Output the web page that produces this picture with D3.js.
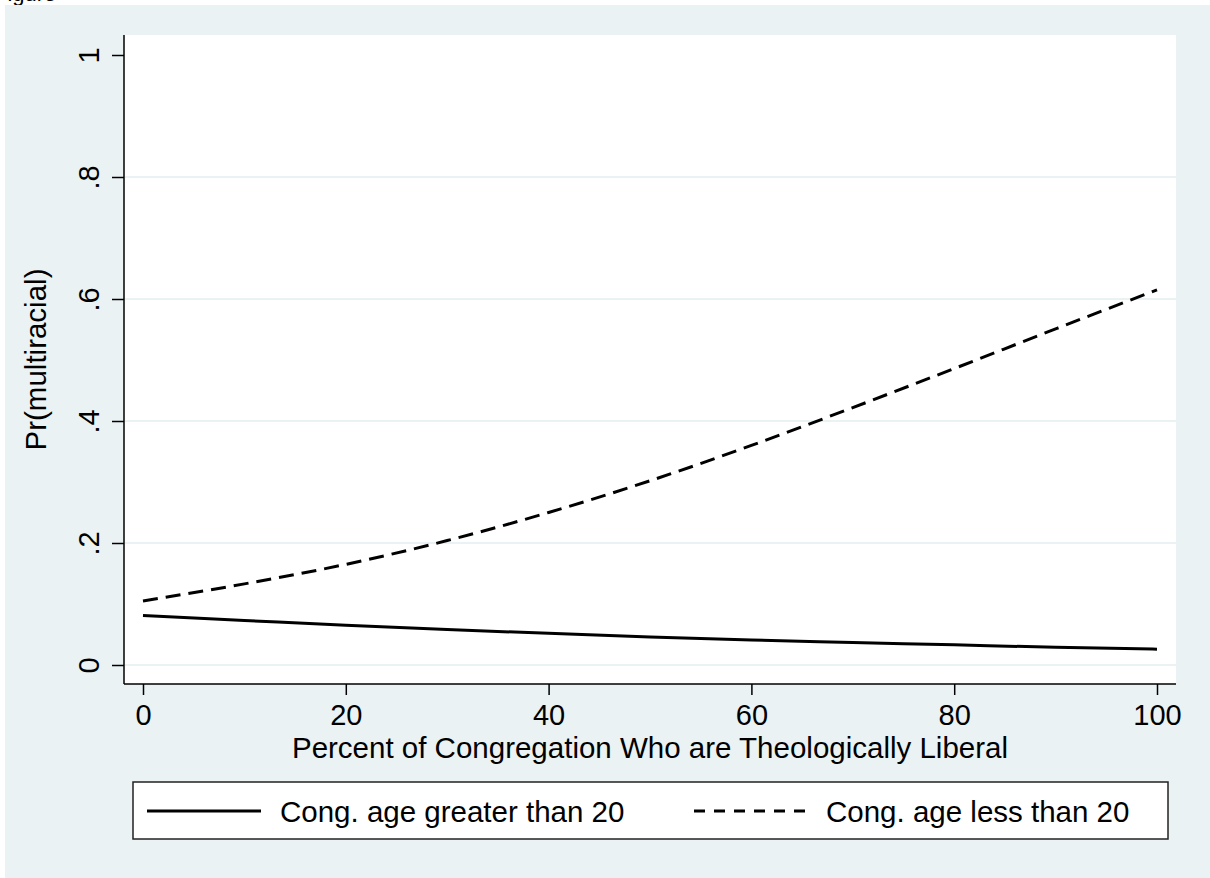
<!DOCTYPE html>
<html>
<head>
<meta charset="utf-8">
<script src="https://cdn.jsdelivr.net/npm/d3@7"></script>
<style>
  body { margin: 0; background: #fff; }
  text { font-family: "Liberation Sans", Arial, Helvetica, sans-serif; }
</style>
</head>
<body>
<script>
const width = 1210
const height = 878

// values
const pctLiberal = [0, 10, 20, 30, 40, 50, 60, 70, 80, 90, 100]
const ageOver20 = [0.081, 0.073, 0.065, 0.058, 0.052, 0.046, 0.041, 0.037, 0.033, 0.029, 0.026]
const ageUnder20 = [0.105, 0.133, 0.165, 0.204, 0.250, 0.302, 0.360, 0.422, 0.486, 0.551, 0.615]
const xTicks = [0, 20, 40, 60, 80, 100]
const yTicks = [0, 0.2, 0.4, 0.6, 0.8, 1]
const yGrid = [0, 0.2, 0.4, 0.6, 0.8]
const seriesNames = ['Cong. age greater than 20', 'Cong. age less than 20']

const colors = {
    background: '#eaf2f3',
    plot: '#fff',
    grid: '#eaf2f3',
    axis: '#000',
    line: '#000'
}

const plot = {left: 124, right: 1176, top: 35, bottom: 684}

const svg = d3.select('body')
    .append('svg')
    .attr('width', width)
    .attr('height', height)

// caption cut off at the very top, as in the source image
svg.append('text')
    .attr('x', -6)
    .attr('y', 1)
    .attr('font-size', 22)
    .attr('fill', '#000')
    .text('Figure')

svg.append('rect')
    .attr('x', 5).attr('y', 5)
    .attr('width', width - 5).attr('height', height - 5)
    .attr('fill', colors.background)

svg.append('rect')
    .attr('x', plot.left).attr('y', plot.top)
    .attr('width', plot.right - plot.left).attr('height', plot.bottom - plot.top)
    .attr('fill', colors.plot)

const x = d3.scaleLinear().domain([0, 100]).range([143, 1157])
const y = d3.scaleLinear().domain([0, 1]).range([665, 55])

const fmt = d => d === 0 ? '0' : d === 1 ? '1' : d3.format('.1f')(d).replace(/^0/, '')

// grid
svg.append('g')
    .selectAll('line')
    .data(yGrid)
    .enter().append('line')
    .attr('x1', plot.left + 1).attr('x2', plot.right)
    .attr('y1', d => y(d)).attr('y2', d => y(d))
    .attr('stroke', colors.grid)
    .attr('stroke-width', 2)

// y axis
const yAxis = svg.append('g')
    .attr('transform', `translate(${plot.left},0)`)
    .call(d3.axisLeft(y).tickValues(yTicks).tickFormat(fmt).tickSize(12).tickSizeOuter(0))
yAxis.select('.domain').remove()
yAxis.selectAll('.tick line').attr('stroke', colors.axis).attr('stroke-width', 1.5)
yAxis.selectAll('.tick text')
    .attr('x', 0).attr('y', -25).attr('dy', null)
    .attr('transform', 'rotate(-90)')
    .attr('text-anchor', 'middle')
    .attr('font-size', 29)
    .attr('font-family', '"Liberation Sans", Arial, sans-serif')
    .attr('fill', '#000')
svg.append('line')
    .attr('x1', plot.left).attr('x2', plot.left)
    .attr('y1', plot.top).attr('y2', plot.bottom)
    .attr('stroke', colors.axis).attr('stroke-width', 1.5)

// x axis
const xAxis = svg.append('g')
    .attr('transform', `translate(0,${plot.bottom})`)
    .call(d3.axisBottom(x).tickValues(xTicks).tickSize(11).tickSizeOuter(0))
xAxis.select('.domain').remove()
xAxis.selectAll('.tick line').attr('stroke', colors.axis).attr('stroke-width', 1.5)
xAxis.selectAll('.tick text')
    .attr('y', 41).attr('dy', null)
    .attr('font-size', 29)
    .attr('font-family', '"Liberation Sans", Arial, sans-serif')
    .attr('fill', '#000')
svg.append('line')
    .attr('x1', plot.left).attr('x2', plot.right)
    .attr('y1', plot.bottom).attr('y2', plot.bottom)
    .attr('stroke', colors.axis).attr('stroke-width', 1.5)

// axis titles
svg.append('text')
    .attr('x', (plot.left + plot.right) / 2)
    .attr('y', 758)
    .attr('text-anchor', 'middle')
    .attr('font-size', 29.5)
    .text('Percent of Congregation Who are Theologically Liberal')

svg.append('text')
    .attr('transform', `translate(46,${(plot.top + plot.bottom) / 2}) rotate(-90)`)
    .attr('text-anchor', 'middle')
    .attr('font-size', 29.5)
    .text('Pr(multiracial)')

// lines
const line = d3.line()
    .x(d => x(d[0]))
    .y(d => y(d[1]))
    .curve(d3.curveMonotoneX)

svg.append('path')
    .datum(d3.zip(pctLiberal, ageOver20))
    .attr('d', line)
    .attr('fill', 'none')
    .attr('stroke', colors.line)
    .attr('stroke-width', 3)

svg.append('path')
    .datum(d3.zip(pctLiberal, ageUnder20))
    .attr('d', line)
    .attr('fill', 'none')
    .attr('stroke', colors.line)
    .attr('stroke-width', 3)
    .attr('stroke-dasharray', '15,8')

// legend
const legend = svg.append('g')
legend.append('rect')
    .attr('x', 133).attr('y', 782)
    .attr('width', 1168 - 133).attr('height', 839 - 782)
    .attr('fill', '#fff')
    .attr('stroke', '#222')
    .attr('stroke-width', 1.5)

const legendItems = [
    {name: seriesNames[0], x0: 147, x1: 261, tx: 280, dash: null},
    {name: seriesNames[1], x0: 694, x1: 809, tx: 826, dash: '11,9'}
]
legendItems.forEach(item => {
    legend.append('line')
        .attr('x1', item.x0).attr('x2', item.x1)
        .attr('y1', 811).attr('y2', 811)
        .attr('stroke', colors.line)
        .attr('stroke-width', 3)
        .attr('stroke-dasharray', item.dash)
    legend.append('text')
        .attr('x', item.tx)
        .attr('y', 822)
        .attr('font-size', 29.5)
        .text(item.name)
})
</script>
</body>
</html>
